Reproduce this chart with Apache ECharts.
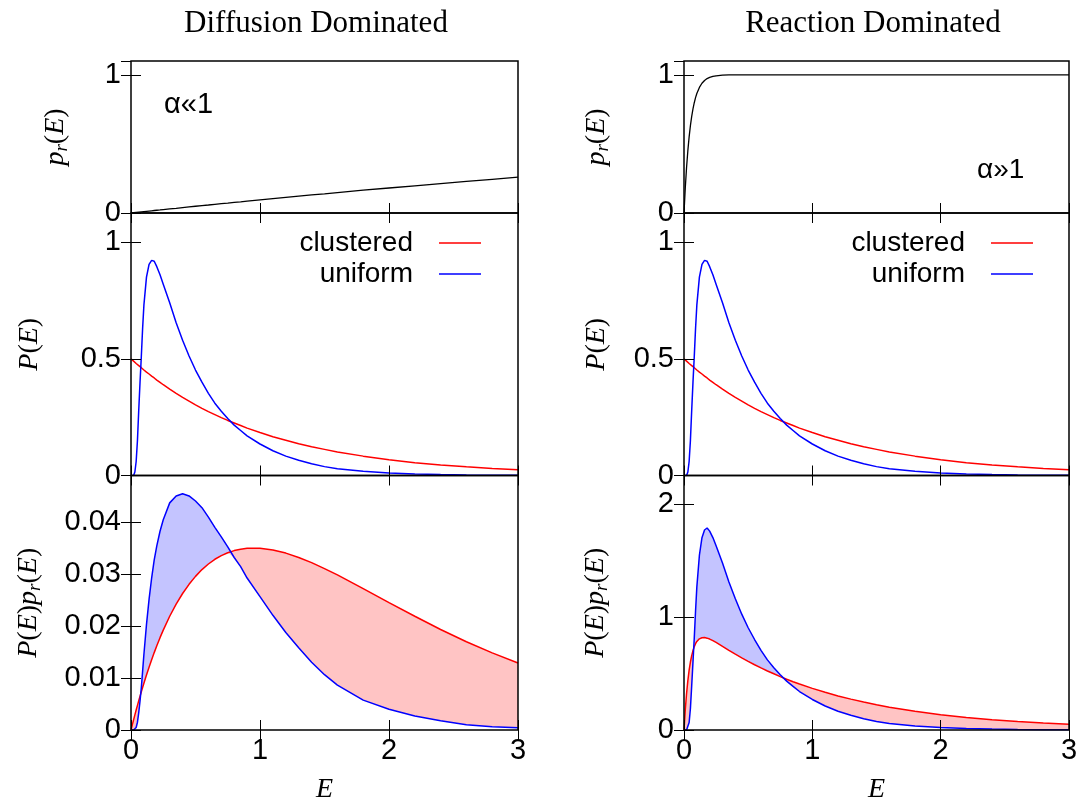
<!DOCTYPE html>
<html>
<head>
<meta charset="utf-8">
<script src="https://cdn.jsdelivr.net/npm/echarts@6/dist/echarts.min.js"></script>
<style>
  html, body { margin: 0; padding: 0; background: #fff; }
  #chart { width: 1078px; height: 802px; }
</style>
</head>
<body>
<div id="chart"></div>
<script>
// energies (x values), shared by all six panels
const E = [0, 0.01, 0.02, 0.03, 0.04, 0.05, 0.06, 0.07, 0.08, 0.09, 0.1, 0.12, 0.14, 0.16, 0.18, 0.2, 0.225, 0.25,
  0.3, 0.35, 0.4, 0.45, 0.5, 0.55, 0.6, 0.65, 0.7, 0.75, 0.8, 0.85, 0.9, 1.0, 1.1, 1.2, 1.3, 1.4, 1.5, 1.6,
  1.8, 2.0, 2.2, 2.4, 2.6, 2.8, 3.0]

// top row: p_r(E)
const prDiffusion = [0, 0.001, 0.002, 0.003, 0.004, 0.005, 0.006, 0.007, 0.008, 0.009, 0.010, 0.012, 0.014, 0.016,
  0.018, 0.020, 0.022, 0.025, 0.030, 0.034, 0.039, 0.044, 0.049, 0.054, 0.058, 0.063, 0.068, 0.072, 0.077, 0.081,
  0.086, 0.095, 0.104, 0.113, 0.122, 0.131, 0.139, 0.148, 0.165, 0.181, 0.197, 0.213, 0.229, 0.244, 0.259]
const prReaction = [0, 0.181, 0.330, 0.451, 0.551, 0.632, 0.699, 0.753, 0.798, 0.835, 0.865, 0.909, 0.939, 0.959,
  0.973, 0.982, 0.989, 0.993, 0.998, 0.999, 1, 1, 1, 1, 1, 1, 1, 1, 1, 1, 1, 1, 1, 1, 1, 1, 1, 1, 1, 1, 1, 1, 1, 1, 1]

// middle row: P(E)
const pClustered = [0.5, 0.495, 0.490, 0.485, 0.480, 0.476, 0.471, 0.466, 0.462, 0.457, 0.452, 0.443, 0.435, 0.426,
  0.418, 0.409, 0.399, 0.389, 0.370, 0.352, 0.335, 0.319, 0.303, 0.288, 0.274, 0.261, 0.248, 0.236, 0.225, 0.214,
  0.203, 0.184, 0.166, 0.151, 0.136, 0.123, 0.112, 0.101, 0.083, 0.068, 0.055, 0.045, 0.037, 0.030, 0.025]
const pUniform = [0, 0, 0, 0.015, 0.06, 0.15, 0.28, 0.40, 0.51, 0.63, 0.73, 0.85, 0.905, 0.922, 0.918, 0.895, 0.86,
  0.82, 0.74, 0.655, 0.58, 0.512, 0.452, 0.40, 0.352, 0.31, 0.275, 0.244, 0.216, 0.193, 0.17, 0.135, 0.106, 0.083,
  0.065, 0.05, 0.038, 0.029, 0.018, 0.011, 0.0068, 0.0042, 0.0022, 0.0013, 0.0008]

// bottom row: P(E) p_r(E)
const prodDiffClustered = [0, 0.00099, 0.00196, 0.00291, 0.00384, 0.00474, 0.00563, 0.00651, 0.00736, 0.00819,
  0.00900, 0.01058, 0.01208, 0.01352, 0.01490, 0.01621, 0.01778, 0.01923, 0.02190, 0.02424, 0.02628, 0.02805,
  0.02958, 0.03089, 0.03196, 0.03287, 0.03357, 0.03413, 0.03454, 0.03482, 0.03499, 0.03501, 0.03467, 0.03406,
  0.03322, 0.03222, 0.03108, 0.02987, 0.02722, 0.02453, 0.02190, 0.01935, 0.01700, 0.01485, 0.01290]
const prodDiffUniform = [0, 0, 0, 0.00009, 0.00048, 0.0015, 0.00335, 0.00558, 0.00813, 0.01129, 0.01453, 0.02028,
  0.02516, 0.02926, 0.03275, 0.03544, 0.03827, 0.04049, 0.04373, 0.04505, 0.04548, 0.04506, 0.04409, 0.04281,
  0.0410, 0.03902, 0.03719, 0.03526, 0.03321, 0.03146, 0.02926, 0.02569, 0.02208, 0.01877, 0.01585, 0.01306,
  0.01065, 0.00865, 0.00575, 0.00399, 0.00269, 0.00179, 0.00101, 0.00063, 0.00041]
const prodReactClustered = [0, 0.179, 0.323, 0.437, 0.530, 0.601, 0.658, 0.702, 0.737, 0.763, 0.783, 0.806, 0.816,
  0.817, 0.812, 0.804, 0.790, 0.774, 0.740, 0.704, 0.670, 0.638, 0.607, 0.577, 0.549, 0.522, 0.497, 0.472, 0.449,
  0.427, 0.407, 0.368, 0.333, 0.301, 0.273, 0.247, 0.223, 0.202, 0.165, 0.135, 0.111, 0.0907, 0.0743, 0.0608, 0.0498]
const prodReactUniform = [0, 0, 0, 0.0135, 0.066, 0.190, 0.391, 0.602, 0.814, 1.052, 1.263, 1.545, 1.700, 1.768,
  1.786, 1.758, 1.701, 1.629, 1.477, 1.309, 1.16, 1.024, 0.904, 0.80, 0.704, 0.62, 0.55, 0.488, 0.432, 0.386, 0.34,
  0.27, 0.212, 0.166, 0.13, 0.10, 0.076, 0.058, 0.036, 0.022, 0.0136, 0.0084, 0.0044, 0.0026, 0.0016]

const xTicks = [0, 1, 2, 3]
const columnTitles = ['Diffusion Dominated', 'Reaction Dominated']
const regimeNotes = ['α«1', 'α»1']
const legendNames = ['clustered', 'uniform']

const SANS = 'Liberation Sans, Arial, sans-serif'
const SERIF = 'Liberation Serif, Times New Roman, serif'

const mathRich = {
  i: { fontFamily: SERIF, fontStyle: 'italic', fontSize: 28, color: '#000' },
  n: { fontFamily: SERIF, fontSize: 28, color: '#000' },
  s: { fontFamily: SERIF, fontStyle: 'italic', fontSize: 19, color: '#000', padding: [12, 0, 0, 0] }
}

const pairs = ys => E.map((e, i) => [e, ys[i]])

// panel layout: 0/1 top, 2/3 middle, 4/5 bottom (left/right)
const grids = [
  { left: 131, top: 61, width: 387, height: 152 },
  { left: 684, top: 61, width: 385, height: 152 },
  { left: 131, top: 213, width: 387, height: 262.5 },
  { left: 684, top: 213, width: 385, height: 262.5 },
  { left: 131, top: 475.5, width: 387, height: 254.5 },
  { left: 684, top: 475.5, width: 385, height: 254.5 }
].map(g => Object.assign(g, { show: true, z: 10, borderColor: '#000', borderWidth: 1.5, backgroundColor: 'transparent',
  outerBoundsMode: 'none', containLabel: false }))

const yRanges = [
  { max: 1.1, interval: 1 }, { max: 1.1, interval: 1 },
  { max: 1.125, interval: 0.5 }, { max: 1.125, interval: 0.5 },
  { max: 0.049, interval: 0.01 }, { max: 2.25, interval: 1 }
]
const yNames = [
  '{i|p}{s|r}{n|(}{i|E}{n|)}', '{i|p}{s|r}{n|(}{i|E}{n|)}',
  '{i|P}{n|(}{i|E}{n|)}', '{i|P}{n|(}{i|E}{n|)}',
  '{i|P}{n|(}{i|E}{n|)}{i|p}{s|r}{n|(}{i|E}{n|)}', '{i|P}{n|(}{i|E}{n|)}{i|p}{s|r}{n|(}{i|E}{n|)}'
]
const yNameGaps = [60, 72, 87, 73, 87, 73]

const tick = { show: true, inside: true, length: 10, lineStyle: { color: '#000', width: 1 } }

const xAxis = []
const yAxis = []
grids.forEach((g, k) => {
  const bottomRow = k >= 4
  xAxis.push({
    type: 'value', gridIndex: k, position: 'bottom', min: 0, max: 3, interval: 1, z: 8,
    axisLine: { show: false }, splitLine: { show: false }, axisTick: tick,
    axisLabel: { show: bottomRow, fontFamily: SANS, fontSize: 29, color: '#000', margin: 6,
      formatter: v => xTicks.includes(v) ? String(v) : '' },
    name: bottomRow ? '{i|E}' : '', nameLocation: 'middle', nameGap: 46,
    nameTextStyle: { rich: mathRich }
  })
  xAxis.push({
    type: 'value', gridIndex: k, position: 'top', min: 0, max: 3, interval: 1, z: 8,
    axisLine: { show: false }, splitLine: { show: false }, axisTick: tick, axisLabel: { show: false }
  })
  yAxis.push({
    type: 'value', gridIndex: k, position: 'left', min: 0, max: yRanges[k].max, interval: yRanges[k].interval, z: 8,
    axisLine: { show: false }, splitLine: { show: false }, axisTick: tick,
    axisLabel: { fontFamily: SANS, fontSize: 29, color: '#000', margin: 10, showMaxLabel: false },
    name: yNames[k], nameLocation: 'middle', nameRotate: 90, nameGap: yNameGaps[k],
    nameTextStyle: { rich: mathRich }
  })
  yAxis.push({
    type: 'value', gridIndex: k, position: 'right', min: 0, max: yRanges[k].max, interval: yRanges[k].interval, z: 8,
    axisLine: { show: false }, splitLine: { show: false }, axisTick: tick, axisLabel: { show: false }
  })
})

function curve(k, name, ys, color, width) {
  return {
    type: 'line', name, xAxisIndex: 2 * k, yAxisIndex: 2 * k, data: pairs(ys),
    symbol: 'none', z: 5, lineStyle: { color, width }, itemStyle: { color }, animation: false
  }
}

// shaded band between the two curves, painted in layers:
// blue under uniform, pink under clustered, then white under the lower of the two
function band(k, red, blue) {
  const lo = red.map((r, i) => Math.min(r, blue[i]))
  const layer = (name, ys, color, z) => ({
    type: 'line', name, xAxisIndex: 2 * k, yAxisIndex: 2 * k, data: pairs(ys), symbol: 'none',
    lineStyle: { width: 0, opacity: 0 }, areaStyle: { color, opacity: 1 }, silent: true, z, animation: false
  })
  return [
    layer('fillU' + k, blue, '#c4c4ff', 1),
    layer('fillC' + k, red, '#ffc4c4', 2),
    layer('fillLo' + k, lo, '#ffffff', 3)
  ]
}

const series = [
  curve(0, 'prDiff', prDiffusion, '#000', 1.3),
  curve(1, 'prReact', prReaction, '#000', 1.3),
  curve(2, 'clustered', pClustered, '#ff0000', 1.5),
  curve(2, 'uniform', pUniform, '#0000ff', 1.5),
  curve(3, 'clustered', pClustered, '#ff0000', 1.5),
  curve(3, 'uniform', pUniform, '#0000ff', 1.5),
  ...band(4, prodDiffClustered, prodDiffUniform),
  ...band(5, prodReactClustered, prodReactUniform),
  curve(4, 'clusteredProd', prodDiffClustered, '#ff0000', 1.5),
  curve(4, 'uniformProd', prodDiffUniform, '#0000ff', 1.5),
  curve(5, 'clusteredProd', prodReactClustered, '#ff0000', 1.5),
  curve(5, 'uniformProd', prodReactUniform, '#0000ff', 1.5)
]

// thin bar icon; the two corner specks fix the icon box at 42x14
const lineIcon = 'path://M0,0L0.01,0L0,0.01Z M42,14L41.99,14L42,13.99Z M0,6.3L42,6.3L42,7.7L0,7.7Z'

const legendBase = {
  data: legendNames, orient: 'vertical', align: 'right', top: 229, padding: 0, icon: lineIcon,
  itemWidth: 42, itemHeight: 14, itemGap: 3, selectedMode: false,
  textStyle: { fontFamily: SANS, fontSize: 28, color: '#000', padding: [0, 21, 0, 0] }
}

const chart = echarts.init(document.getElementById('chart'))
chart.setOption({
  backgroundColor: '#fff',
  animation: false,
  grid: grids,
  xAxis,
  yAxis,
  series,
  legend: [
    Object.assign({}, legendBase, { right: 1078 - 481 }),
    Object.assign({}, legendBase, { right: 1078 - 1033 })
  ],
  graphic: [
    { type: 'text', x: 316, y: 24, style: { text: columnTitles[0], font: '31px ' + SERIF, fill: '#000', align: 'center', verticalAlign: 'middle' } },
    { type: 'text', x: 873, y: 24, style: { text: columnTitles[1], font: '31px ' + SERIF, fill: '#000', align: 'center', verticalAlign: 'middle' } },
    { type: 'text', x: 164, y: 105, style: { text: regimeNotes[0], font: '29px ' + SANS, fill: '#000', align: 'left', verticalAlign: 'middle' } },
    { type: 'text', x: 977, y: 170, style: { text: regimeNotes[1], font: '28px ' + SANS, fill: '#000', align: 'left', verticalAlign: 'middle' } }
  ]
})
</script>
</body>
</html>
